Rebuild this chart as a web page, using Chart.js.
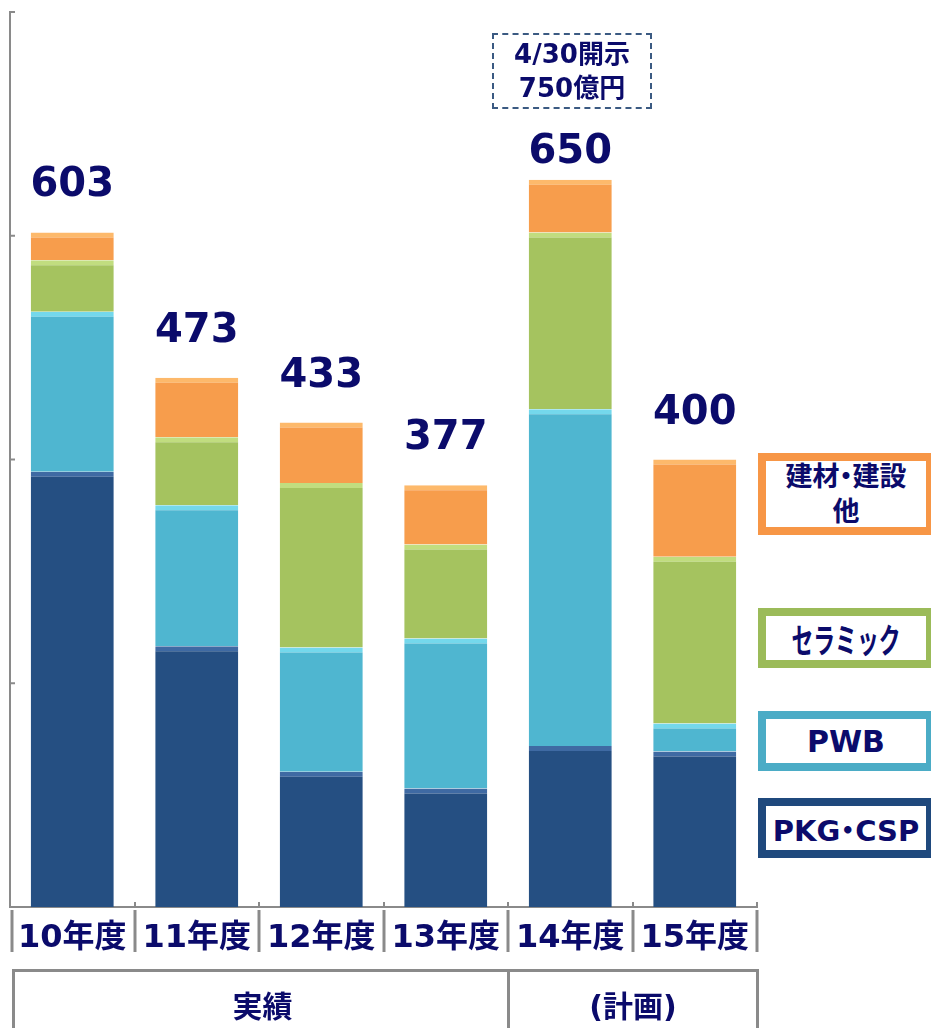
<!DOCTYPE html>
<html>
<head>
<meta charset="utf-8">
<script src="https://cdn.jsdelivr.net/npm/chart.js@4"></script>
<style>
    body { margin: 0; background: #fff; overflow: hidden; }
    #wrap { position: relative; width: 931px; height: 1028px; }
    #chart { position: absolute; left: 0; top: 0; }
    .txt { font-family: 'DejaVu Sans', 'Noto Sans CJK JP', sans-serif; font-weight: bold; color: #0b0b6b; white-space: nowrap; }
    .note { position: absolute; left: 492px; top: 33px; width: 160px; height: 76px; box-sizing: border-box;
            border: 2px dashed #3b5a82; display: flex; flex-direction: column; align-items: center;
            justify-content: center; font-size: 26px; line-height: 34px; }
    .legend { position: absolute; left: 758px; width: 176px; box-sizing: border-box; border: 8px solid;
              background: #fff; display: flex; flex-direction: column; align-items: center; justify-content: center; }
    .dot { display: inline-block; margin: 0 -7px; }
    .cell { position: absolute; top: 969px; height: 80px; box-sizing: border-box; border: 3px solid #8a8a8a;
            border-bottom: none; display: flex; justify-content: center; padding-top: 10px; font-size: 30px; }
</style>
</head>
<body>
<div id="wrap">
    <canvas id="chart" width="931" height="1028"></canvas>

    <div class="note txt"><div>4/30開示</div><div>750億円</div></div>

    <div class="legend txt" style="top:453px; height:82px; border-color:#f79646; font-size:27px; line-height:35px;">
        <div>建材<span class="dot">・</span>建設</div><div>他</div>
    </div>
    <div class="legend txt" style="top:608px; height:60px; border-color:#9bbb59; font-size:34px;">
        <div style="transform: scaleX(0.64);">セラミック</div>
    </div>
    <div class="legend txt" style="top:711px; height:60px; border-color:#4bacc6; font-size:30px;">
        <div>PWB</div>
    </div>
    <div class="legend txt" style="top:798px; height:60px; border-color:#1f497d; font-size:29px;">
        <div>PKG<span class="dot">・</span>CSP</div>
    </div>

    <div class="cell txt" style="left:12px; width:498px; border-right:none;">実績</div>
    <div class="cell txt" style="left:507px; width:252px;">(計画)</div>
</div>

<script>
// Data (億円)
const years = ['10年度', '11年度', '12年度', '13年度', '14年度', '15年度'];
const pkgCsp   = [389, 233, 121, 106, 144, 139];
const pwb      = [143, 126, 111, 134, 301, 25];
const ceramic  = [46, 61, 147, 84, 158, 149];
const building = [25, 53, 54, 53, 47, 87];
const yTicks   = [0, 200, 400, 600, 800];

const FONT = "'DejaVu Sans', 'Noto Sans CJK JP', sans-serif";
const NAVY_TEXT = '#0b0b6b';

// totals above each stack
const totals = years.map((_, i) => pkgCsp[i] + pwb[i] + ceramic[i] + building[i]);

function segment(label, data, color, light) {
    return {
        label: label,
        data: data,
        backgroundColor: color,
        borderColor: light,
        borderWidth: { top: 5, left: 0, right: 0, bottom: 0 },
        borderSkipped: false,
        categoryPercentage: 1,
        barPercentage: 0.667
    };
}

// Axis ticks, category separators and total labels
const decorations = {
    id: 'decorations',
    afterDraw(chart) {
        const ctx = chart.ctx;
        const x = chart.scales.x;
        const y = chart.scales.y;
        const area = chart.chartArea;

        ctx.save();
        ctx.strokeStyle = '#8a8a8a';
        ctx.lineWidth = 2;

        // y ticks point inward
        yTicks.forEach(v => {
            const py = y.getPixelForValue(v);
            ctx.beginPath();
            ctx.moveTo(area.left, py);
            ctx.lineTo(area.left + 5, py);
            ctx.stroke();
        });

        // category boundaries
        for (let i = 0; i <= years.length; i++) {
            const px = Math.round(x.getPixelForValue(i - 0.5));
            ctx.lineWidth = 2;
            ctx.beginPath();
            ctx.moveTo(px, area.bottom - 5);
            ctx.lineTo(px, area.bottom);
            ctx.stroke();
            ctx.lineWidth = 3;
            ctx.beginPath();
            ctx.moveTo(px + (i === 0 ? 2 : 0), area.bottom + 3);
            ctx.lineTo(px + (i === 0 ? 2 : 0), area.bottom + 45);
            ctx.stroke();
        }

        // totals
        const top = chart.getDatasetMeta(3);
        ctx.fillStyle = NAVY_TEXT;
        ctx.font = 'bold 40px ' + FONT;
        ctx.textAlign = 'center';
        ctx.textBaseline = 'alphabetic';
        top.data.forEach((bar, i) => {
            const gap = i === 4 ? 17 : 36;
            ctx.fillText(String(totals[i]), bar.x, bar.y - gap);
        });
        ctx.restore();
    }
};

new Chart(document.getElementById('chart'), {
    type: 'bar',
    data: {
        labels: years,
        datasets: [
            segment('PKG・CSP', pkgCsp, '#254f82', '#3f6aa3'),
            segment('PWB', pwb, '#4fb6d0', '#74d8ec'),
            segment('セラミック', ceramic, '#a5c35f', '#c1dd7f'),
            segment('建材・建設他', building, '#f79d4c', '#fdb96b')
        ]
    },
    options: {
        responsive: false,
        animation: false,
        layout: { padding: { top: 12, right: 174, left: 0, bottom: 0 } },
        plugins: {
            legend: { display: false },
            tooltip: { enabled: false }
        },
        scales: {
            x: {
                stacked: true,
                grid: { display: false },
                border: { color: '#8a8a8a', width: 2 },
                ticks: {
                    color: NAVY_TEXT,
                    padding: 4,
                    font: { family: FONT, size: 32, weight: 'bold' }
                },
                afterFit(scale) { scale.height = 121; }
            },
            y: {
                stacked: true,
                min: 0,
                max: 800,
                grid: { display: false },
                border: { color: '#8a8a8a', width: 2 },
                ticks: { display: false, stepSize: 200 },
                afterFit(scale) { scale.width = 10; }
            }
        }
    },
    plugins: [decorations]
});
</script>
</body>
</html>
